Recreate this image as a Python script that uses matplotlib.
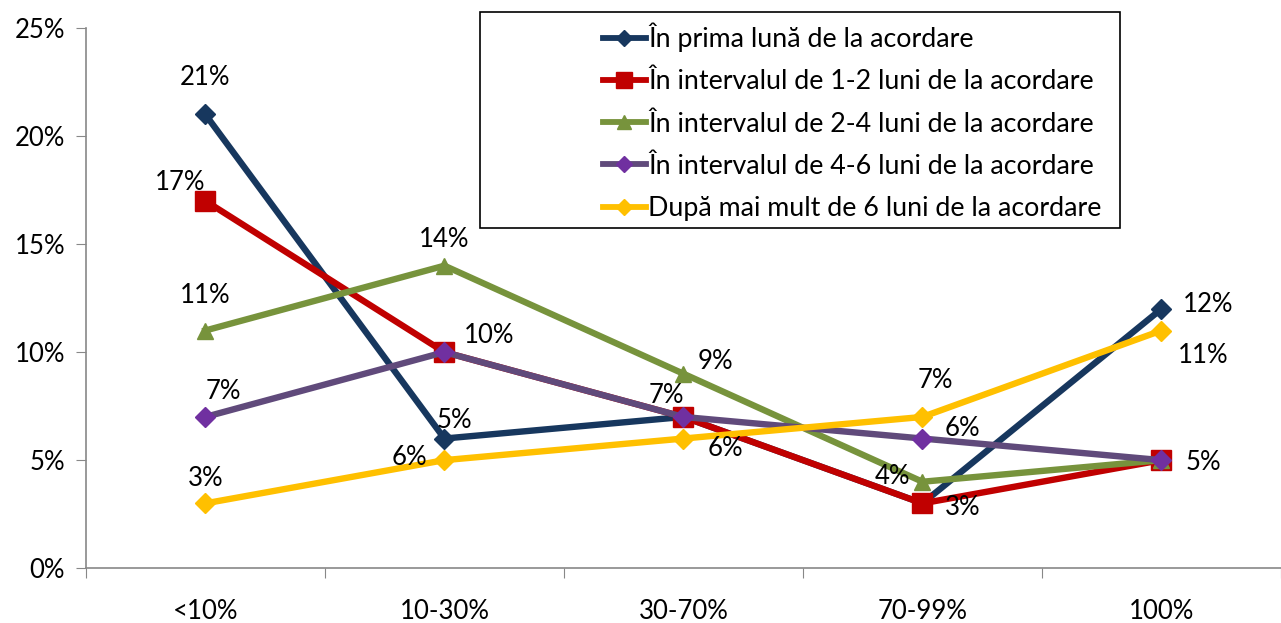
import matplotlib
matplotlib.use("Agg")
import matplotlib.pyplot as plt
from matplotlib.patches import Rectangle
from matplotlib.lines import Line2D

categories = ["<10%", "10-30%", "30-70%", "70-99%", "100%"]
series_names = [
    "În prima lună de la acordare",
    "În intervalul de 1-2 luni de la acordare",
    "În intervalul de 2-4 luni de la acordare",
    "În intervalul de 4-6 luni de la acordare",
    "După mai mult de 6 luni de la acordare",
]
s_prima = [21, 6, 7, 3, 12]
s_1_2 = [17, 10, 7, 3, 5]
s_2_4 = [11, 14, 9, 4, 5]
s_4_6 = [7, 10, 7, 6, 5]
s_6plus = [3, 5, 6, 7, 11]
series_values = [s_prima, s_1_2, s_2_4, s_4_6, s_6plus]
y_ticks = [0, 5, 10, 15, 20, 25]

# data labels as shown: (series index, category index, text)
data_labels = [
    (0, 0, "21%"), (1, 0, "17%"), (2, 0, "11%"), (3, 0, "7%"), (4, 0, "3%"),
    (2, 1, "14%"), (1, 1, "10%"), (0, 1, "5%"), (4, 1, "6%"),
    (1, 2, "7%"), (2, 2, "9%"), (4, 2, "6%"),
    (4, 3, "7%"), (3, 3, "6%"), (2, 3, "4%"), (1, 3, "3%"),
    (0, 4, "12%"), (4, 4, "11%"), (3, 4, "5%"),
]
# label offsets in pixels (dx, dy with dy up positive)
label_offsets = [
    (0, 37), (-25, 18), (0, 35), (18, 25), (0, 25),
    (0, 26), (45, 17), (10, 18), (-35, 3),
    (-17, 21), (32, 12), (42, -10),
    (13, 36), (40, 10), (-30, 5), (40, -4),
    (47, 4), (42, -25), (42, -2),
]

colors = ["#17375E", "#C00000", "#77933C", "#604A7B", "#FFC000"]
marker_colors = ["#17375E", "#C00000", "#77933C", "#7030A0", "#FFC000"]
markers = ["D", "s", "^", "D", "D"]
msizes = [10, 15, 12, 10, 10]

font = "Lato"
plt.rcParams["font.family"] = [font, "DejaVu Sans"]
FS = 18.5
LFS = 19.3

fig = plt.figure(figsize=(12.81, 6.23), dpi=100)
ax = fig.add_axes([0.067, 0.088, 0.933, 0.867])

x = list(range(len(categories)))
for i, vals in enumerate(series_values):
    ax.plot(x, vals, color=colors[i], lw=4.6, marker=markers[i],
            markersize=msizes[i], markerfacecolor=marker_colors[i],
            markeredgecolor=marker_colors[i], solid_joinstyle="miter",
            label=series_names[i], zorder=3 + i)

for (si, ci, txt), (dx, dy) in zip(data_labels, label_offsets):
    ax.annotate(txt, (x[ci], series_values[si][ci]), xytext=(dx, dy),
                textcoords="offset pixels", ha="center", va="center",
                fontsize=FS, color="black", zorder=20)

ax.set_xlim(-0.5, 4.5)
ax.set_ylim(0, 25)
ax.set_yticks(y_ticks)
ax.set_yticklabels([f"{v}%" for v in y_ticks], fontsize=FS)
ax.set_xticks([i - 0.5 for i in range(len(categories) + 1)])
ax.set_xticklabels([])
ax.set_xticks(x, minor=True)
ax.set_xticklabels(categories, minor=True, fontsize=FS)
ax.tick_params(axis="x", which="major", length=7, direction="out", color="#888888")
ax.tick_params(axis="x", which="minor", length=0, pad=22)
ax.tick_params(axis="y", length=7, direction="out", color="#888888", pad=8)
for s in ["top", "right"]:
    ax.spines[s].set_visible(False)
for s in ["left", "bottom"]:
    ax.spines[s].set_color("#888888")
    ax.spines[s].set_linewidth(1.2)

# legend box
W, H = 1281, 623
fig.patches.append(Rectangle((480 / W, 1 - 228 / H), (1120 - 480) / W, (228 - 12) / H,
                             transform=fig.transFigure, fill=False,
                             edgecolor="black", lw=1.2, zorder=30))
leg_handles = [Line2D([0], [0], color=colors[i], lw=4.2, marker=markers[i],
                      markersize=msizes[i] * 0.8, markerfacecolor=marker_colors[i],
                      markeredgecolor=marker_colors[i]) for i in range(5)]
fig.legend(leg_handles, series_names, loc="upper left",
           bbox_to_anchor=(584 / W, 1 - 4 / H), frameon=False,
           fontsize=LFS, handlelength=1.6, handletextpad=0.1,
           labelspacing=0.64, borderpad=0.2)

fig.savefig("out.png", dpi=100, facecolor="white")
